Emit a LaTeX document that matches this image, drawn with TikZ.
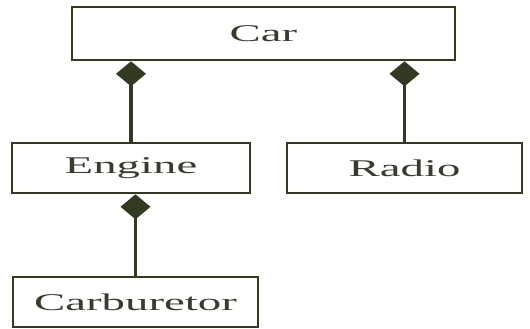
\documentclass[tikz,border=0pt]{standalone}
\usepackage{fontspec}
\setmainfont{Liberation Serif}
\usetikzlibrary{arrows.meta, positioning}
\usepackage{xcolor}
\definecolor{linec}{HTML}{333A22}
\definecolor{textc}{HTML}{3A3A30}
\newcommand{\widetxt}[1]{\scalebox{1.95}[1]{#1}}

\begin{document}
\begin{tikzpicture}[
    x=1pt, y=-1pt,
    cls/.style={rectangle, draw=linec, line width=2.6pt, fill=white, text=textc,
                inner sep=0pt, font=\fontsize{24}{24}\selectfont},
    part/.style={draw=linec, line width=3.2pt, {Diamond[length=25pt, width=30pt]}-}]

  \useasboundingbox (0,0) rectangle (530,329);

  % classes
  \node[cls, minimum width=383pt, minimum height=53pt] (car) at (263.5,33.5) {\widetxt{Car}};
  \node[cls, minimum width=238pt, minimum height=50pt] (engine) at (131,168) {\widetxt{Engine}};
  \node[cls, minimum width=235pt, minimum height=50pt] (radio) at (404.5,168) {\widetxt{Radio}};
  \node[cls, minimum width=245pt, minimum height=50pt] (carb) at (135.5,302) {\widetxt{Carburetor}};

  % composition (filled diamond at the whole)
  \draw[part] (engine.north |- car.south) -- (engine.north);
  \draw[part] (radio.north |- car.south) -- (radio.north);
  \draw[part] (carb.north |- engine.south) -- (carb.north);
\end{tikzpicture}
\end{document}
